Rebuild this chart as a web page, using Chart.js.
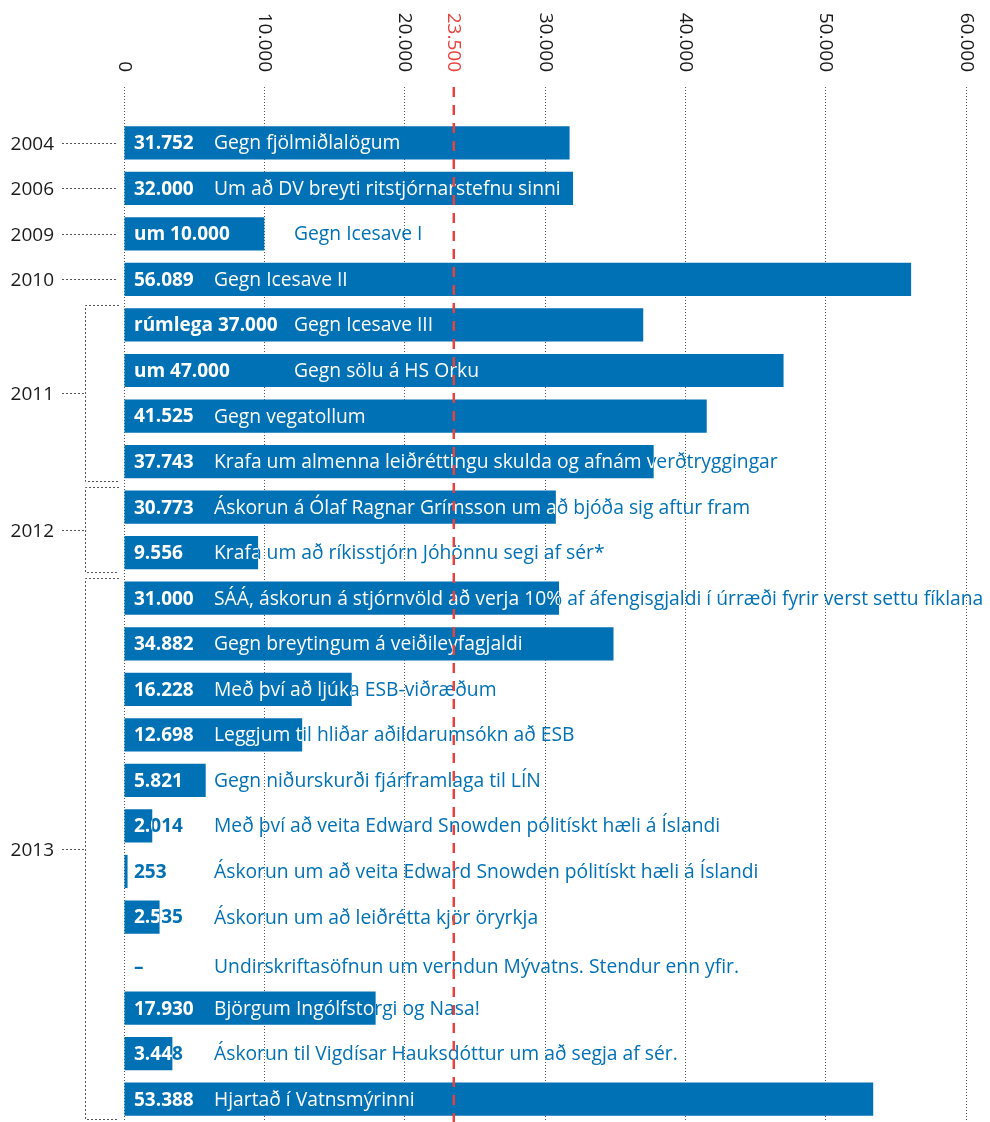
<!DOCTYPE html>
<html>
<head>
<meta charset="utf-8">
<script src="https://cdn.jsdelivr.net/npm/chart.js@4/dist/chart.umd.min.js"></script>
<style>
	html, body { margin: 0; padding: 0; background: #fff; }
	canvas { display: block; }
</style>
</head>
<body>
<canvas id="chart" width="990" height="1122"></canvas>
<script>
const years = [
	'2004', '2006', '2009', '2010',
	'2011', '2011', '2011', '2011',
	'2012', '2012',
	'2013', '2013', '2013', '2013', '2013', '2013', '2013', '2013', '2013', '2013', '2013', '2013'
];

const values = [
	31752, 32000, 10000, 56089,
	37000, 47000, 41525, 37743,
	30773, 9556,
	31000, 34882, 16228, 12698, 5821, 2014, 253, 2535, null, 17930, 3448, 53388
];

const valueLabels = [
	'31.752', '32.000', 'um 10.000', '56.089',
	'rúmlega 37.000', 'um 47.000', '41.525', '37.743',
	'30.773', '9.556',
	'31.000', '34.882', '16.228', '12.698', '5.821', '2.014', '253', '2.535', '–', '17.930', '3.448', '53.388'
];

const descriptions = [
	'Gegn fjölmiðlalögum',
	'Um að DV breyti ritstjórnarstefnu sinni',
	'Gegn Icesave I',
	'Gegn Icesave II',
	'Gegn Icesave III',
	'Gegn sölu á HS Orku',
	'Gegn vegatollum',
	'Krafa um almenna leiðréttingu skulda og afnám verðtryggingar',
	'Áskorun á Ólaf Ragnar Grímsson um að bjóða sig aftur fram',
	'Krafa um að ríkisstjórn Jóhönnu segi af sér*',
	'SÁÁ, áskorun á stjórnvöld að verja 10% af áfengisgjaldi í úrræði fyrir verst settu fíklana',
	'Gegn breytingum á veiðileyfagjaldi',
	'Með því að ljúka ESB-viðræðum',
	'Leggjum til hliðar aðildarumsókn að ESB',
	'Gegn niðurskurði fjárframlaga til LÍN',
	'Með því að veita Edward Snowden pólitískt hæli á Íslandi',
	'Áskorun um að veita Edward Snowden pólitískt hæli á Íslandi',
	'Áskorun um að leiðrétta kjör öryrkja',
	'Undirskriftasöfnun um verndun Mývatns. Stendur enn yfir.',
	'Björgum Ingólfstorgi og Nasa!',
	'Áskorun til Vigdísar Hauksdóttur um að segja af sér.',
	'Hjartað í Vatnsmýrinni'
];

const xMin = 0;
const xMax = 60000;
const xStep = 10000;
const thresholdValue = 23500;
const thresholdLabel = '23.500';

const BLUE = '#0071b5';
const RED = '#e8423e';
const INK = '#1a1a1a';
const FONT = '"Open Sans", "Noto Sans", sans-serif';

function formatThousands(v) {
	return String(v).replace(/\B(?=(\d{3})+(?!\d))/g, '.');
}

// text that is white over the bar and blue outside it
function twoToneText(ctx, text, x, y, rect) {
	ctx.fillStyle = BLUE;
	ctx.fillText(text, x, y);
	if (!rect) {
		return;
	}
	ctx.save();
	ctx.beginPath();
	ctx.rect(rect.left, rect.top, rect.right - rect.left, rect.bottom - rect.top);
	ctx.clip();
	ctx.fillStyle = '#fff';
	ctx.fillText(text, x, y);
	ctx.restore();
}

const overlayPlugin = {
	id: 'overlay',
	afterDatasetsDraw(chart) {
		const ctx = chart.ctx;
		const area = chart.chartArea;
		const xScale = chart.scales.x;
		const yScale = chart.scales.y;
		const meta = chart.getDatasetMeta(0);

		// rotated tick labels on top
		ctx.save();
		ctx.font = '19px ' + FONT;
		ctx.textAlign = 'right';
		ctx.textBaseline = 'middle';
		xScale.ticks.forEach((tick) => {
			const x = xScale.getPixelForValue(tick.value);
			ctx.save();
			ctx.translate(x, 72);
			ctx.rotate(Math.PI / 2);
			ctx.fillStyle = INK;
			ctx.fillText(formatThousands(tick.value), 0, 0);
			ctx.restore();
		});
		const tx = xScale.getPixelForValue(thresholdValue);
		ctx.save();
		ctx.translate(tx, 72);
		ctx.rotate(Math.PI / 2);
		ctx.fillStyle = RED;
		ctx.fillText(thresholdLabel, 0, 0);
		ctx.restore();
		ctx.restore();

		// bar labels
		ctx.save();
		ctx.textBaseline = 'middle';
		ctx.textAlign = 'left';
		values.forEach((v, i) => {
			const bar = meta.data[i];
			let y = yScale.getPixelForValue(i);
			let rect = null;
			if (v !== null) {
				const p = bar.getProps(['x', 'y', 'base', 'height'], true);
				rect = {
					left: Math.min(p.base, p.x),
					right: Math.max(p.base, p.x),
					top: p.y - p.height / 2,
					bottom: p.y + p.height / 2
				};
			} else {
				y += 4;
			}
			const x0 = area.left + 10;
			ctx.font = 'bold 19px ' + FONT;
			const w = ctx.measureText(valueLabels[i]).width;
			twoToneText(ctx, valueLabels[i], x0, y + 1, rect);
			const col = 80 * Math.ceil((w + 12) / 80);
			ctx.font = '19.3px ' + FONT;
			twoToneText(ctx, descriptions[i], x0 + col, y + 1, rect);
		});
		ctx.restore();

		// threshold line
		ctx.save();
		ctx.strokeStyle = RED;
		ctx.lineWidth = 2.5;
		ctx.setLineDash([10, 8]);
		ctx.beginPath();
		ctx.moveTo(tx, 87);
		ctx.lineTo(tx, area.bottom);
		ctx.stroke();
		ctx.restore();

		// year labels with dotted brackets
		ctx.save();
		ctx.font = '19px ' + FONT;
		ctx.fillStyle = INK;
		ctx.textAlign = 'right';
		ctx.textBaseline = 'middle';
		ctx.strokeStyle = '#555';
		ctx.lineWidth = 1;
		ctx.setLineDash([2, 2]);
		const half = (yScale.getPixelForValue(1) - yScale.getPixelForValue(0)) / 2;
		let start = 0;
		for (let i = 1; i <= years.length; i++) {
			if (i < years.length && years[i] === years[start]) {
				continue;
			}
			const end = i - 1;
			const yTop = yScale.getPixelForValue(start);
			const yBot = yScale.getPixelForValue(end);
			const yMid = Math.round((yTop + yBot) / 2) + 0.5;
			ctx.fillText(years[start], 54, yMid + 1);
			ctx.beginPath();
			if (start === end) {
				ctx.moveTo(62, yMid);
				ctx.lineTo(118, yMid);
			} else {
				const t = Math.round(yTop - half + 3) + 0.5;
				const b = Math.round(yBot + half - 3) + 0.5;
				ctx.moveTo(62, yMid);
				ctx.lineTo(85, yMid);
				ctx.moveTo(119, t);
				ctx.lineTo(85.5, t);
				ctx.lineTo(85.5, b);
				ctx.lineTo(119, b);
			}
			ctx.stroke();
			start = i;
		}
		ctx.restore();
	}
};

new Chart(document.getElementById('chart'), {
	type: 'bar',
	data: {
		labels: descriptions,
		datasets: [{
			data: values,
			backgroundColor: BLUE,
			borderWidth: 0,
			barPercentage: 0.73,
			categoryPercentage: 1
		}]
	},
	options: {
		indexAxis: 'y',
		responsive: false,
		devicePixelRatio: 1,
		animation: false,
		layout: {
			padding: { left: 124, right: 24, top: 0, bottom: 0 }
		},
		scales: {
			x: {
				position: 'top',
				min: xMin,
				max: xMax,
				ticks: {
					display: false,
					stepSize: xStep
				},
				grid: {
					color: '#555',
					lineWidth: 1,
					tickLength: 33,
					tickColor: '#555',
					tickBorderDash: [1, 2]
				},
				border: {
					display: false,
					dash: [1, 2]
				},
				afterFit: function(scale) {
					scale.height = 120;
				}
			},
			y: {
				display: false
			}
		},
		plugins: {
			legend: { display: false },
			tooltip: { enabled: false }
		}
	},
	plugins: [overlayPlugin]
});
</script>
</body>
</html>
